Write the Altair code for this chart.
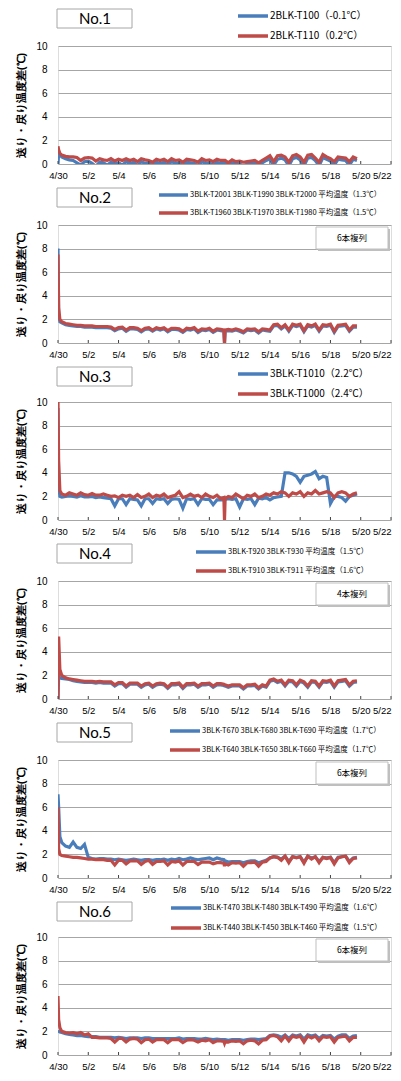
import altair as alt
import pandas as pd

# time axis in hours from 4/30 00:00 (extra points around the 5/11 dip)
HOURS = [0, 1, 3] + list(range(6, 259, 6)) + [263, 264, 265] + list(range(270, 475, 6))
DAYS = [h / 24 for h in HOURS]

X_TICKS = [0, 2, 4, 6, 8, 10, 12, 14, 16, 18, 20, 22]
X_LABELS = ["4/30", "5/2", "5/4", "5/6", "5/8", "5/10", "5/12", "5/14", "5/16", "5/18", "5/20", "5/22"]
Y_TICKS = [0, 2, 4, 6, 8, 10]
Y_TITLE = "送り・戻り温度差(℃)"

PANEL_NAMES = ["No.1", "No.2", "No.3", "No.4", "No.5", "No.6"]
BLUE_LABELS = [
    "2BLK-T100（-0.1℃）",
    "3BLK-T2001  3BLK-T1990  3BLK-T2000  平均温度（1.3℃）",
    "3BLK-T1010（2.2℃）",
    "3BLK-T920  3BLK-T930  平均温度（1.5℃）",
    "3BLK-T670  3BLK-T680  3BLK-T690  平均温度（1.7℃）",
    "3BLK-T470  3BLK-T480  3BLK-T490  平均温度（1.6℃）",
]
RED_LABELS = [
    "2BLK-T110（0.2℃）",
    "3BLK-T1960  3BLK-T1970  3BLK-T1980  平均温度（1.5℃）",
    "3BLK-T1000（2.4℃）",
    "3BLK-T910  3BLK-T911  平均温度（1.6℃）",
    "3BLK-T640  3BLK-T650  3BLK-T660  平均温度（1.7℃）",
    "3BLK-T440  3BLK-T450  3BLK-T460  平均温度（1.5℃）",
]
BOX_LABELS = ["", "6本複列", "", "4本複列", "6本複列", "6本複列"]

P1_BLUE = [0.0, 0.9, 0.8, 0.6, 0.45, 0.35,
           0.3, 0.1, -0.1, 0.2,
           0.25, 0.05, -0.2, 0.15,
           0.1, -0.1, 0.15, 0.0,
           0.1, -0.1, 0.2, 0.05,
           0.15, -0.15, 0.2, 0.05,
           0.1, -0.15, 0.15, 0.05,
           0.15, -0.1, 0.2, 0.05,
           0.1, -0.15, 0.15, 0.1,
           0.05, -0.15, 0.2, 0.05,
           0.1, -0.1, 0.15, 0.05, 0.05,
           0.05, 0.05, -0.2, 0.1, 0.0,
           0.0, -0.15, 0.0, 0.05,
           0.05, -0.2, 0.1, 0.3,
           0.45, -0.1, 0.4, 0.5,
           0.35, -0.15, 0.45, 0.55,
           0.35, -0.15, 0.5, 0.55,
           0.3, -0.15, 0.55, 0.4,
           0.25, -0.1, 0.4, 0.35,
           0.3, -0.1, 0.4, 0.3]
P1_RED = [1.5, 1.2, 0.9, 0.75, 0.65, 0.6,
          0.6, 0.55, 0.3, 0.5,
          0.55, 0.5, 0.25, 0.45,
          0.35, 0.3, 0.45, 0.25,
          0.4, 0.3, 0.45, 0.3,
          0.4, 0.2, 0.45, 0.35,
          0.3, 0.15, 0.4, 0.3,
          0.4, 0.2, 0.45, 0.3,
          0.35, 0.15, 0.4, 0.35,
          0.3, 0.15, 0.45, 0.3,
          0.35, 0.2, 0.4, 0.3, 0.3,
          0.3, 0.3, 0.1, 0.35, 0.2,
          0.25, 0.15, 0.2, 0.25,
          0.3, 0.1, 0.3, 0.5,
          0.7, 0.2, 0.7, 0.75,
          0.6, 0.15, 0.7, 0.8,
          0.6, 0.15, 0.75, 0.8,
          0.5, 0.15, 0.8, 0.6,
          0.45, 0.2, 0.6, 0.55,
          0.5, 0.2, 0.6, 0.45]

P2_BLUE = [8.0, 2.5, 1.8, 1.7, 1.55, 1.5,
           1.45, 1.4, 1.4, 1.35,
           1.35, 1.35, 1.3, 1.3,
           1.3, 1.3, 1.25, 1.05,
           1.2, 1.25, 1.0, 1.2,
           1.2, 1.15, 0.95, 1.15,
           1.2, 1.0, 1.2, 1.1,
           1.2, 0.95, 1.15, 1.15,
           1.1, 0.9, 1.15, 1.1,
           1.2, 0.9, 1.1, 1.05,
           1.15, 0.9, 1.1, 1.05, 1.0,
           0.0, 1.0, 1.05, 1.0, 1.1,
           1.0, 0.85, 1.1, 1.05,
           1.1, 0.85, 1.1, 1.05,
           1.0, 1.45, 1.5, 1.2,
           1.45, 1.0, 1.5, 1.4,
           1.5, 0.95, 1.45, 1.35,
           1.5, 1.0, 1.45, 1.4,
           1.5, 0.9, 1.4, 1.45,
           1.5, 1.0, 1.35, 1.35]
P2_RED = [7.5, 3.0, 2.0, 1.8, 1.65, 1.6,
          1.55, 1.5, 1.5, 1.45,
          1.45, 1.45, 1.4, 1.4,
          1.4, 1.4, 1.35, 1.15,
          1.3, 1.35, 1.1, 1.3,
          1.3, 1.25, 1.05, 1.25,
          1.3, 1.1, 1.3, 1.2,
          1.3, 1.05, 1.25, 1.25,
          1.2, 1.0, 1.25, 1.2,
          1.3, 1.0, 1.2, 1.15,
          1.25, 1.0, 1.2, 1.15, 1.1,
          0.0, 1.1, 1.15, 1.1, 1.2,
          1.1, 0.95, 1.2, 1.15,
          1.2, 0.95, 1.2, 1.15,
          1.1, 1.55, 1.6, 1.3,
          1.55, 1.1, 1.6, 1.5,
          1.6, 1.05, 1.55, 1.45,
          1.6, 1.1, 1.55, 1.5,
          1.6, 1.0, 1.5, 1.55,
          1.6, 1.1, 1.45, 1.45]

P3_BLUE = [9.5, 3.0, 2.0, 1.95, 2.0, 2.05,
           2.0, 1.95, 2.05, 1.95,
           1.95, 2.0, 1.9, 1.95,
           1.9, 1.85, 1.8, 1.2,
           1.8, 1.8, 1.3, 1.8,
           1.75, 1.7, 1.2, 1.8,
           1.8, 1.4, 1.8, 1.75,
           1.8, 1.4, 1.75, 1.8,
           1.75, 1.0, 1.8, 1.75,
           1.8, 1.3, 1.8, 1.75,
           1.75, 1.3, 1.7, 1.7, 1.7,
           1.7, 1.75, 1.8, 1.75, 1.8,
           1.1, 1.8, 1.75, 1.8,
           1.3, 1.85, 1.8, 1.9,
           1.7, 1.9, 1.95, 2.0,
           4.0, 4.0, 3.9, 3.7,
           3.2, 3.7, 3.8, 3.9,
           4.1, 3.5, 3.7, 3.6,
           1.4, 2.0, 2.0, 1.9,
           1.6, 2.0, 2.1, 2.2]
P3_RED = [10.0, 5.0, 2.5, 2.2, 2.1, 2.3,
          2.2, 2.1, 2.3, 2.15,
          2.1, 2.25, 2.1, 2.1,
          2.2, 2.1, 2.0, 2.05,
          1.9, 2.1, 2.0, 2.1,
          1.9, 2.15, 1.9, 2.0,
          2.2, 1.9, 2.1, 2.0,
          2.2, 1.9, 2.0, 2.1,
          2.4, 1.9, 2.0, 2.2,
          2.0, 2.1, 1.9, 2.2,
          2.0, 1.9, 2.1, 1.8, 1.9,
          0.0, 1.8, 2.0, 1.9, 2.2,
          2.0, 1.8, 2.1, 2.0,
          2.2, 1.9, 2.0, 2.2,
          2.1, 2.3, 2.2, 2.4,
          2.3, 2.0, 2.3, 2.2,
          2.4, 2.0, 2.3, 2.2,
          2.5, 2.2, 2.3, 2.4,
          2.3, 1.9, 2.3, 2.4,
          2.3, 2.0, 2.2, 2.3]

P4_BLUE = [0.0, 1.9, 1.8, 1.75, 1.7, 1.65,
           1.55, 1.5, 1.45, 1.4,
           1.4, 1.4, 1.35, 1.4,
           1.35, 1.35, 1.35, 1.1,
           1.3, 1.3, 1.0, 1.25,
           1.25, 1.25, 1.0, 1.2,
           1.25, 1.0, 1.2, 1.25,
           1.2, 0.9, 1.2, 1.2,
           1.25, 0.9, 1.2, 1.2,
           1.25, 1.0, 1.2, 1.2,
           1.25, 1.0, 1.2, 1.2, 1.15,
           1.1, 1.1, 1.0, 1.1, 1.1,
           1.1, 0.85, 1.1, 1.1,
           1.15, 0.85, 1.1, 1.0,
           1.5, 1.6, 1.4, 1.5,
           1.1, 1.5, 1.45, 1.1,
           1.5, 1.35, 1.0, 1.45,
           1.4, 1.0, 1.45, 1.4,
           1.5, 1.0, 1.45, 1.5,
           1.55, 1.1, 1.4, 1.45]
P4_RED = [0.0, 5.3, 2.5, 2.0, 1.8, 1.7,
          1.65, 1.6, 1.55, 1.5,
          1.5, 1.5, 1.45, 1.5,
          1.45, 1.45, 1.45, 1.2,
          1.4, 1.4, 1.1, 1.35,
          1.35, 1.35, 1.1, 1.3,
          1.35, 1.1, 1.3, 1.35,
          1.3, 1.0, 1.3, 1.3,
          1.35, 1.0, 1.3, 1.3,
          1.35, 1.1, 1.3, 1.3,
          1.35, 1.1, 1.3, 1.3, 1.25,
          1.2, 1.2, 1.1, 1.2, 1.2,
          1.2, 0.95, 1.2, 1.2,
          1.25, 0.95, 1.2, 1.1,
          1.6, 1.7, 1.5, 1.6,
          1.2, 1.6, 1.55, 1.2,
          1.6, 1.45, 1.1, 1.55,
          1.5, 1.1, 1.55, 1.5,
          1.6, 1.1, 1.55, 1.6,
          1.65, 1.2, 1.5, 1.55]

P5_BLUE = [7.1, 6.0, 3.5, 3.0, 2.7, 2.6,
           3.05, 2.6, 2.5, 2.85,
           1.75, 1.65, 1.6, 1.65,
           1.65, 1.6, 1.6, 1.55,
           1.6, 1.55, 1.5, 1.55,
           1.6, 1.55, 1.5, 1.55,
           1.55, 1.5, 1.55, 1.55,
           1.6, 1.5, 1.6, 1.55,
           1.65, 1.55, 1.6, 1.7,
           1.6, 1.55, 1.6, 1.65,
           1.7, 1.55, 1.7, 1.6, 1.55,
           1.4, 1.45, 1.35, 1.4, 1.4,
           1.4, 1.3, 1.4, 1.45,
           1.45, 1.3, 1.4, 1.5,
           1.7, 1.8, 1.75, 1.6,
           1.85, 1.4, 1.8, 1.75,
           1.8, 1.35, 1.85, 1.7,
           1.8, 1.4, 1.75, 1.7,
           1.75, 1.3, 1.75, 1.8,
           1.85, 1.4, 1.7, 1.75]
P5_RED = [6.0, 2.5, 2.0, 1.9, 1.85, 1.8,
          1.75, 1.75, 1.7, 1.65,
          1.6, 1.6, 1.55, 1.55,
          1.55, 1.5, 1.5, 1.1,
          1.5, 1.5, 1.2, 1.45,
          1.45, 1.45, 1.15, 1.4,
          1.5, 1.15, 1.4, 1.4,
          1.45, 1.1, 1.4, 1.35,
          1.45, 1.1, 1.4, 1.4,
          1.4, 1.15, 1.35, 1.35,
          1.35, 1.2, 1.3, 1.3, 1.25,
          1.0, 1.2, 1.1, 1.3, 1.25,
          1.3, 1.0, 1.3, 1.3,
          1.35, 1.0, 1.35, 1.4,
          1.7, 1.8, 1.75, 1.5,
          1.85, 1.3, 1.8, 1.7,
          1.8, 1.25, 1.85, 1.6,
          1.8, 1.3, 1.75, 1.65,
          1.75, 1.2, 1.7, 1.8,
          1.85, 1.3, 1.65, 1.7]

P6_BLUE = [2.1, 2.0, 1.95, 1.9, 1.8, 1.75,
           1.7, 1.65, 1.65, 1.6,
           1.55, 1.55, 1.55, 1.5,
           1.5, 1.5, 1.5, 1.45,
           1.5, 1.45, 1.4, 1.45,
           1.45, 1.45, 1.4, 1.45,
           1.45, 1.4, 1.4, 1.4,
           1.4, 1.4, 1.4, 1.4,
           1.45, 1.35, 1.4, 1.4,
           1.4, 1.35, 1.35, 1.4,
           1.35, 1.3, 1.35, 1.3, 1.3,
           1.3, 1.3, 1.25, 1.3, 1.3,
           1.3, 1.25, 1.3, 1.35,
           1.35, 1.3, 1.35, 1.4,
           1.65, 1.7, 1.65, 1.5,
           1.7, 1.4, 1.7, 1.6,
           1.7, 1.35, 1.7, 1.6,
           1.7, 1.4, 1.65, 1.6,
           1.65, 1.35, 1.6, 1.7,
           1.7, 1.4, 1.6, 1.65]
P6_RED = [5.0, 3.0, 2.3, 2.0, 1.9, 1.85,
          1.9, 1.8, 1.9, 1.7,
          1.8, 1.5, 1.5, 1.45,
          1.45, 1.45, 1.4, 1.1,
          1.4, 1.4, 1.1, 1.35,
          1.4, 1.35, 1.05, 1.3,
          1.35, 1.1, 1.3, 1.3,
          1.3, 1.05, 1.3, 1.3,
          1.3, 1.05, 1.25, 1.3,
          1.25, 1.1, 1.25, 1.2,
          1.3, 1.05, 1.2, 1.2, 1.15,
          1.0, 1.15, 1.1, 1.2, 1.15,
          1.2, 0.95, 1.2, 1.25,
          1.2, 0.95, 1.25, 1.3,
          1.6, 1.65, 1.55, 1.2,
          1.6, 1.2, 1.6, 1.5,
          1.6, 1.1, 1.6, 1.45,
          1.6, 1.2, 1.55, 1.5,
          1.55, 1.1, 1.5, 1.55,
          1.6, 1.2, 1.5, 1.5]

BLUE_SERIES = [P1_BLUE, P2_BLUE, P3_BLUE, P4_BLUE, P5_BLUE, P6_BLUE]
RED_SERIES = [P1_RED, P2_RED, P3_RED, P4_RED, P5_RED, P6_RED]

BLUE = "#4A7EBB"
RED = "#BE4B48"
W, H = 333, 118
JP = "Noto Sans CJK JP"

# legend placement per panel (relative to plot origin): line x1, x2, y1, y2, font size
LEG = [
    (180, 210, -30, -10, 10),
    (101, 130, -30, -12, 7.5),
    (180, 210, -28, -8, 10),
    (138, 168, -29, -10, 7.5),
    (112, 142, -29, -10, 7.5),
    (113, 143, -29, -9, 7.5),
]
NO_BOX_Y = [-37, -37, -35, -37, -37, -35]

label_expr = "[" + ",".join("'%s'" % s for s in X_LABELS) + "][round(datum.value / 2)]"

X_ENC = alt.X("day:Q", scale=alt.Scale(domain=[0, 22], nice=False, zero=False),
              axis=alt.Axis(values=X_TICKS, labelExpr=label_expr, title=None, grid=False,
                            ticks=False, domain=False, labelPadding=6, labelFlush=False,
                            labelOverlap=False, labelFontSize=9.5,
                            labelAlign={"expr": "datum.value >= 22 ? 'right' : 'center'"}))
Y_ENC = alt.Y("val:Q", scale=alt.Scale(domain=[0, 10], nice=False),
              axis=alt.Axis(values=Y_TICKS, title=Y_TITLE, grid=True, gridColor="#A6A6A6",
                            gridWidth=1, ticks=False, domain=False, labelPadding=11,
                            titlePadding=9))


def one():
    return pd.DataFrame({"k": [0]})


def panel(i):
    blue_df = pd.DataFrame([{"day": d, "val": v} for d, v in zip(DAYS, BLUE_SERIES[i])])
    red_df = pd.DataFrame([{"day": d, "val": v} for d, v in zip(DAYS, RED_SERIES[i])])
    tick_df = pd.DataFrame({"day": X_TICKS})

    layers = []
    layers.append(alt.Chart(blue_df).mark_line(color=BLUE, strokeWidth=3.2, clip=True)
                  .encode(x=X_ENC, y=Y_ENC))
    layers.append(alt.Chart(red_df).mark_line(color=RED, strokeWidth=3.2, clip=True)
                  .encode(x=X_ENC, y=Y_ENC))
    layers.append(alt.Chart(tick_df).mark_rule(color="#404040", strokeWidth=1)
                  .encode(x=X_ENC, y=alt.value(H - 3), y2=alt.value(H)))

    # "No." box
    by = NO_BOX_Y[i]
    layers.append(alt.Chart(one()).mark_rect(fill="white", stroke="#A6A6A6", strokeWidth=1)
                  .encode(x=alt.value(-1), x2=alt.value(74), y=alt.value(by), y2=alt.value(by + 19)))
    layers.append(alt.Chart(pd.DataFrame({"t": [PANEL_NAMES[i]]}))
                  .mark_text(font="Lato", fontSize=15, color="#000", align="center", baseline="middle")
                  .encode(text="t:N", x=alt.value(37), y=alt.value(by + 10)))

    # legend
    x1, x2, y1, y2, fs = LEG[i]
    for yy, col, lab in [(y1, BLUE, BLUE_LABELS[i]), (y2, RED, RED_LABELS[i])]:
        layers.append(alt.Chart(one()).mark_rule(color=col, strokeWidth=3.5)
                      .encode(x=alt.value(x1), x2=alt.value(x2), y=alt.value(yy)))
        layers.append(alt.Chart(pd.DataFrame({"t": [lab]}))
                      .mark_text(font=JP, fontSize=fs, color="#000", align="left", baseline="middle")
                      .encode(text="t:N", x=alt.value(x2 + 2), y=alt.value(yy)))

    # "n本複列" box
    if BOX_LABELS[i]:
        layers.append(alt.Chart(one()).mark_rect(fill="#BFBFBF")
                      .encode(x=alt.value(260), x2=alt.value(332), y=alt.value(4), y2=alt.value(26)))
        layers.append(alt.Chart(one()).mark_rect(fill="white", stroke="#BFBFBF", strokeWidth=1)
                      .encode(x=alt.value(258), x2=alt.value(330), y=alt.value(2), y2=alt.value(24)))
        layers.append(alt.Chart(pd.DataFrame({"t": [BOX_LABELS[i]]}))
                      .mark_text(font=JP, fontSize=8.5, color="#000", align="center", baseline="middle")
                      .encode(text="t:N", x=alt.value(294), y=alt.value(13)))

    return alt.layer(*layers).properties(width=W, height=H)


chart = alt.vconcat(*[panel(i) for i in range(6)], spacing=7).properties(
    padding={"left": 7, "top": 0, "right": 0, "bottom": 0}
).configure_view(
    stroke="#404040", strokeWidth=1
).configure_axis(
    labelFont="Lato", labelFontSize=10, labelColor="#000",
    titleFont=JP, titleFontSize=10, titleFontWeight="bold", titleColor="#000"
).configure(background="white")

chart.save("out.html", embed_options={"renderer": "svg", "actions": False})
